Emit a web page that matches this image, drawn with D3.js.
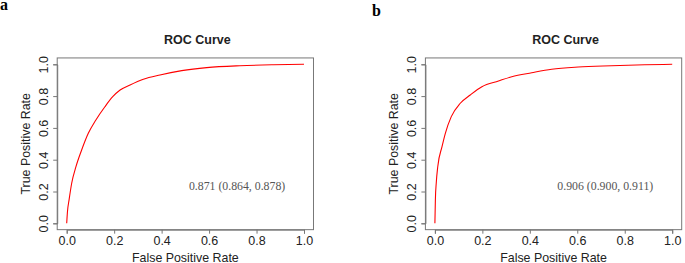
<!DOCTYPE html>
<html>
<head>
<meta charset="utf-8">
<script src="https://cdn.jsdelivr.net/npm/d3@7"></script>
<style>
  html, body { margin: 0; padding: 0; background: #fff; }
  svg { display: block; }
  .tick text { font-family: Arial, "Liberation Sans", sans-serif; }
</style>
</head>
<body>
<svg id="chart"></svg>
<script>
// ROC points (false positive rate, true positive rate)
const fprA = [0, 0.003, 0.01, 0.021, 0.039, 0.063, 0.091, 0.123, 0.161, 0.194, 0.225, 0.267, 0.323, 0.393, 0.485, 0.59, 0.73, 0.871, 1];
const tprA = [0, 0.07, 0.147, 0.252, 0.356, 0.461, 0.566, 0.65, 0.733, 0.796, 0.838, 0.87, 0.906, 0.933, 0.96, 0.979, 0.991, 0.997, 1];

const fprB = [0, 0.002, 0.006, 0.012, 0.03, 0.044, 0.069, 0.107, 0.149, 0.198, 0.268, 0.324, 0.408, 0.492, 0.604, 0.744, 0.884, 1];
const tprB = [0, 0.147, 0.26, 0.356, 0.482, 0.566, 0.671, 0.755, 0.807, 0.859, 0.895, 0.922, 0.947, 0.969, 0.983, 0.991, 0.997, 1];

const panelLetters = ["a", "b"];
const aucLabels = ["0.871 (0.864, 0.878)", "0.906 (0.900, 0.911)"];
const tickValues = [0, 0.2, 0.4, 0.6, 0.8, 1.0];

const width = 685, height = 263;
const svg = d3.select("#chart").attr("width", width).attr("height", height);

// R-style plot region: data range plus 4% on each side
const inner = { x0: 66.7, x1: 304, y0: 223.3, y1: 64.3 };
const panelShift = [0, 368.2];
const letterPos = [[0, 10], [372, 16]];

function drawPanel(i, fpr, tpr) {
  const g = svg.append("g").attr("transform", `translate(${panelShift[i]},0)`);
  const x = d3.scaleLinear().domain([0, 1]).range([inner.x0, inner.x1]);
  const y = d3.scaleLinear().domain([0, 1]).range([inner.y0, inner.y1]);

  const left = x(-0.04), right = x(1.04), top = y(1.04), bottom = y(-0.04);

  // box
  g.append("rect")
    .attr("x", left).attr("y", top)
    .attr("width", right - left).attr("height", bottom - top)
    .attr("fill", "none").attr("stroke", "#777").attr("stroke-width", 1);

  // x axis
  const xAxis = g.append("g")
    .attr("transform", `translate(0,${bottom})`)
    .call(d3.axisBottom(x).tickValues(tickValues).tickFormat(d3.format(".1f")).tickSizeOuter(0).tickSize(4));
  xAxis.select(".domain").attr("stroke", "#777");
  xAxis.selectAll(".tick line").attr("stroke", "#777");
  xAxis.selectAll(".tick text").attr("font-size", 12.5).attr("fill", "#222")
    .attr("dy", null).attr("y", 15.3);

  // y axis
  const yAxis = g.append("g")
    .attr("transform", `translate(${left},0)`)
    .call(d3.axisLeft(y).tickValues(tickValues).tickFormat(d3.format(".1f")).tickSizeOuter(0).tickSize(4));
  yAxis.select(".domain").attr("stroke", "#777");
  yAxis.selectAll(".tick line").attr("stroke", "#777");
  yAxis.selectAll(".tick text")
    .attr("font-size", 12.5).attr("fill", "#222")
    .attr("x", null).attr("dy", null)
    .attr("text-anchor", "middle")
    .attr("transform", "translate(-9.5,0) rotate(-90)");

  // title
  g.append("text")
    .attr("x", (left + right) / 2 + 12).attr("y", 43.5)
    .attr("text-anchor", "middle")
    .attr("font-family", "Arial, 'Liberation Sans', sans-serif")
    .attr("font-weight", "bold").attr("font-size", 12.5).attr("fill", "#222")
    .text("ROC Curve");

  // axis labels
  g.append("text")
    .attr("x", (left + right) / 2).attr("y", 261.5)
    .attr("text-anchor", "middle")
    .attr("font-family", "Arial, 'Liberation Sans', sans-serif")
    .attr("font-size", 12.4).attr("fill", "#222")
    .text("False Positive Rate");
  g.append("text")
    .attr("transform", `translate(30,${(top + bottom) / 2}) rotate(-90)`)
    .attr("text-anchor", "middle")
    .attr("font-family", "Arial, 'Liberation Sans', sans-serif")
    .attr("font-size", 12.4).attr("fill", "#222")
    .text("True Positive Rate");

  // curve
  const pts = fpr.map((d, k) => [d, tpr[k]]);
  g.append("path")
    .datum(pts)
    .attr("fill", "none").attr("stroke", "#ff0000").attr("stroke-width", 1.1)
    .attr("d", d3.line().x(d => x(d[0])).y(d => y(d[1])).curve(d3.curveMonotoneX));

  // AUC annotation
  g.append("text")
    .attr("x", x(0.718)).attr("y", y(0.236) + 4)
    .attr("text-anchor", "middle")
    .attr("font-family", "'Liberation Serif', 'Times New Roman', serif")
    .attr("font-size", 11.8).attr("fill", "#555")
    .text(aucLabels[i]);

  // panel letter
  svg.append("text")
    .attr("x", letterPos[i][0]).attr("y", letterPos[i][1])
    .attr("font-family", "'Liberation Serif', 'Times New Roman', serif")
    .attr("font-weight", "bold").attr("font-size", 16).attr("fill", "#000")
    .text(panelLetters[i]);
}

drawPanel(0, fprA, tprA);
drawPanel(1, fprB, tprB);
</script>
</body>
</html>
